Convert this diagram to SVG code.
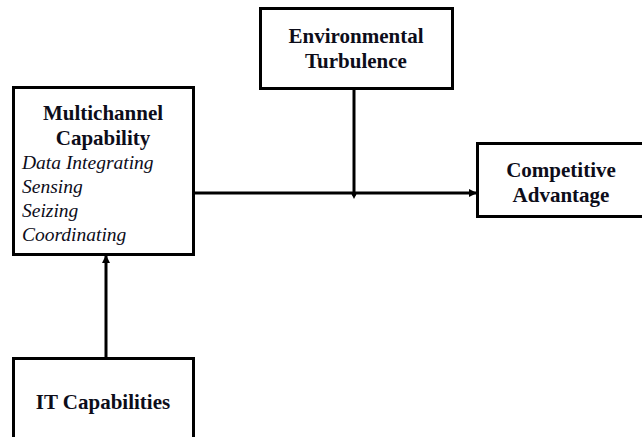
<svg xmlns="http://www.w3.org/2000/svg" width="642" height="437" viewBox="0 0 642 437">
<style>
.box{fill:#fff;stroke:#000;stroke-width:3}
.t{font-family:"Liberation Serif","Times New Roman",serif;fill:#0d0d1a}
.b{font-weight:bold;font-size:21px;text-anchor:middle}
.i{font-style:italic;font-size:19.5px}
.ln{stroke:#000;stroke-width:3;fill:none}
</style>
<defs>
<marker id="ah" markerWidth="8" markerHeight="8" refX="7" refY="4" orient="auto" markerUnits="userSpaceOnUse">
<path d="M0,0 L8,4 L0,8 Z" fill="#000"/>
</marker>
<marker id="sm" markerWidth="6" markerHeight="6" refX="3" refY="3" orient="auto" markerUnits="userSpaceOnUse">
<path d="M0,0 L6,3 L0,6 Z" fill="#000"/>
</marker>
</defs>
<rect width="642" height="437" fill="#fff"/>
<g id="connectors">
<line class="ln" x1="194" y1="193" x2="476" y2="193" marker-end="url(#ah)"/>
<line class="ln" x1="354" y1="89" x2="354" y2="196" marker-end="url(#sm)"/>
<line class="ln" x1="106" y1="357" x2="106" y2="256" marker-end="url(#ah)"/>
</g>
<g id="multichannel">
<rect class="box" x="13.5" y="87.5" width="180" height="167"/>
<text class="t b" x="103" y="120">Multichannel</text>
<text class="t b" x="103" y="145">Capability</text>
<text class="t i" x="22" y="169">Data Integrating</text>
<text class="t i" x="22" y="193">Sensing</text>
<text class="t i" x="22" y="217">Seizing</text>
<text class="t i" x="22" y="241">Coordinating</text>
</g>
<g id="environmental">
<rect class="box" x="260.5" y="8.5" width="192" height="80"/>
<text class="t b" x="356" y="43">Environmental</text>
<text class="t b" x="356" y="68">Turbulence</text>
</g>
<g id="competitive">
<rect class="box" x="477.5" y="143.5" width="170" height="73"/>
<text class="t b" x="561" y="177">Competitive</text>
<text class="t b" x="561" y="202">Advantage</text>
</g>
<g id="it">
<rect class="box" x="13.5" y="358.5" width="180" height="85"/>
<text class="t b" x="103" y="409">IT Capabilities</text>
</g>
</svg>
